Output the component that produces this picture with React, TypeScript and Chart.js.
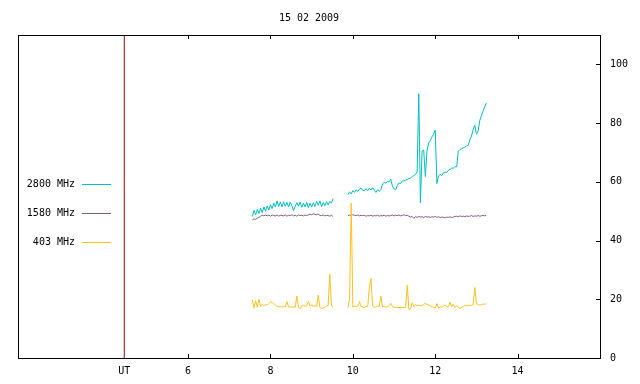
import { useEffect, useRef } from "react";
import { Chart, registerables } from "chart.js";
Chart.register(...registerables);

const TITLE = "15 02 2009";
const X_MIN = 1.87;
const X_MAX = 16;
const UT_POS = 4.45;
const UT_LABEL = "UT";
const X_TICKS = [6, 8, 10, 12, 14];
const Y_TICKS = [0, 20, 40, 60, 80, 100];
const Y_MAX = 110;

// sampling grid of the two recording segments (hours UT)
const SEG1_START = 7.56;
const SEG2_START = 9.88;
const STEP = 0.04;

const SERIES_LABELS = ["2800 MHz", "1580 MHz", "403 MHz"];
const SERIES_COLORS = ["#00c0c0", "#806080", "#ffc020"];

const CYAN_1 = [
  48.2, 50.3, 48.7, 50.6, 49.2, 51.0, 49.5, 51.4, 50.0, 51.8,
  50.4, 52.2, 50.9, 52.7, 51.4, 53.5, 51.6, 53.1, 51.5, 53.2,
  51.7, 53.0, 51.4, 53.1, 51.8, 50.2, 51.6, 52.9, 51.7, 53.1,
  51.3, 52.8, 51.5, 53.0, 51.2, 52.7, 51.4, 52.9, 51.6, 53.3,
  52.0, 53.5, 51.6, 52.9, 51.9, 53.2, 52.1, 53.4, 52.7, 54.3,
];
const CYAN_2 = [
  55.6, 56.6, 55.9, 57.0, 56.4, 57.3, 56.7, 57.5, 57.9, 57.1,
  57.0, 57.7, 57.0, 57.8, 57.2, 58.0, 57.2, 56.4, 57.3, 56.8,
  57.3, 59.3, 59.8, 59.5, 60.1, 60.0, 60.9, 58.5, 57.6, 57.3,
  58.8, 59.6, 59.4, 60.3, 60.3, 60.6, 60.8, 61.1, 61.3, 61.8,
  62.1, 62.5, 63.4, 90.0, 52.8, 70.5, 70.8, 61.8, 70.5, 73.2,
  74.0, 75.3, 76.2, 77.6, 59.4, 62.0, 62.6, 62.1, 63.1, 63.3,
  63.2, 63.9, 64.3, 64.7, 64.6, 65.2, 65.1, 70.4, 71.0, 71.3,
  71.6, 71.8, 72.2, 72.4, 74.3, 75.6, 77.8, 79.3, 76.2, 77.3,
  80.8, 82.5, 84.0, 85.5, 86.8,
];
const PURPLE_1 = [
  47.0, 47.4, 47.2, 47.6, 47.9, 48.3, 48.6, 48.4, 48.7, 48.4,
  48.6, 48.3, 48.7, 48.5, 48.4, 48.7, 48.3, 48.6, 48.5, 48.4,
  48.7, 48.3, 48.6, 48.5, 48.8, 48.4, 48.6, 48.3, 48.7, 48.5,
  48.6, 48.4, 48.7, 48.5, 48.8, 49.0, 48.8, 49.1, 48.9, 48.8,
  49.0, 48.6, 48.5, 48.7, 48.4, 48.6, 48.5, 48.3, 48.6, 48.2,
];
const PURPLE_2 = [
  48.4, 48.7, 48.5, 48.8, 48.6, 48.5, 48.7, 48.4, 48.6, 48.5,
  48.6, 48.3, 48.5, 48.4, 48.6, 48.3, 48.5, 48.4, 48.6, 48.3,
  48.5, 48.4, 48.6, 48.3, 48.5, 48.4, 48.5, 48.7, 48.4, 48.6,
  48.5, 48.7, 48.4, 48.6, 48.8, 48.5, 48.6, 48.3, 48.0, 48.2,
  47.6, 48.1, 47.9, 48.2, 48.0, 48.1, 47.8, 48.2, 48.0, 48.1,
  47.9, 48.1, 48.0, 48.2, 47.9, 48.1, 47.8, 48.0, 47.9, 47.7,
  48.0, 47.9, 48.1, 47.8, 48.0, 48.2, 48.3, 48.1, 48.4, 48.2,
  48.3, 48.1, 48.4, 48.2, 48.3, 48.5, 48.2, 48.4, 48.3, 48.5,
  48.3, 48.4, 48.6, 48.4, 48.6,
];
const YELLOW_1 = [
  19.8, 17.0, 19.5, 17.3, 20.0, 17.6, 18.3, 17.8, 18.2, 18.0,
  18.6, 19.3, 18.9, 18.5, 18.1, 17.6, 17.4, 17.6, 17.3, 17.5,
  17.4, 19.2, 17.3, 17.5, 17.2, 17.4, 17.2, 21.1, 17.4, 16.8,
  17.7, 17.9, 17.6, 17.8, 19.3, 17.7, 18.0, 17.6, 17.9, 17.5,
  21.4, 17.2, 16.9, 17.0, 17.3, 17.7, 17.9, 28.6, 17.8, 17.3,
];
const YELLOW_2 = [
  17.2, 20.0, 52.7, 17.4, 17.6, 17.5, 17.7, 19.2, 17.5, 17.4,
  17.2, 17.6, 17.5, 24.0, 27.1, 17.8, 17.4, 17.3, 17.9, 17.5,
  21.1, 17.4, 17.6, 17.3, 17.5, 17.8, 18.6, 17.6, 17.2, 17.2,
  17.2, 17.2, 17.2, 17.2, 17.2, 17.2, 24.8, 16.6, 16.8, 18.8,
  17.6, 18.2, 17.8, 18.0, 17.7, 18.0, 18.3, 18.6, 18.3, 18.0,
  17.7, 17.5, 17.3, 17.0, 18.5, 16.9, 17.5, 17.2, 17.7, 18.1,
  17.4, 17.6, 19.0, 17.5, 18.3, 17.2, 17.8, 17.3, 16.9, 17.2,
  17.4, 17.8, 17.9, 17.8, 18.0, 17.9, 18.2, 24.0, 18.5, 18.3,
  18.0, 18.2, 18.4, 18.3, 18.5,
];

const FONT = "'DejaVu Sans Mono', monospace";

function buildSeries(a: number[], b: number[]) {
  const pts: { x: number; y: number | null }[] = [];
  a.forEach((v, i) => pts.push({ x: SEG1_START + i * STEP, y: v }));
  pts.push({ x: (SEG1_START + (a.length - 1) * STEP + SEG2_START) / 2, y: null });
  b.forEach((v, i) => pts.push({ x: SEG2_START + i * STEP, y: v }));
  return pts;
}

const framePlugin = {
  id: "frame",
  afterDatasetsDraw(chart: any) {
    const { ctx, chartArea } = chart;
    const { left, right, top, bottom } = chartArea;
    const xs = chart.scales.x;
    const ys = chart.scales.y;
    ctx.save();
    ctx.strokeStyle = "#000";
    ctx.lineWidth = 1;
    ctx.strokeRect(Math.round(left) + 0.5, Math.round(top) + 0.5, Math.round(right - left), Math.round(bottom - top));
    ctx.beginPath();
    X_TICKS.forEach((v) => {
      const px = Math.round(xs.getPixelForValue(v)) + 0.5;
      ctx.moveTo(px, bottom);
      ctx.lineTo(px, bottom - 4);
      ctx.moveTo(px, top);
      ctx.lineTo(px, top + 4);
    });
    Y_TICKS.forEach((v) => {
      const py = Math.round(ys.getPixelForValue(v)) + 0.5;
      ctx.moveTo(right, py);
      ctx.lineTo(right - 4, py);
    });
    ctx.stroke();

    // title
    ctx.fillStyle = "#000";
    ctx.font = "10px " + FONT;
    ctx.textAlign = "center";
    ctx.textBaseline = "middle";
    ctx.fillText(TITLE, (left + right) / 2, 18);

    // legend
    ctx.textAlign = "right";
    SERIES_LABELS.forEach((lab, i) => {
      const y = 184 + i * 29;
      ctx.fillStyle = "#000";
      ctx.fillText(lab, 75, y);
      ctx.strokeStyle = SERIES_COLORS[i];
      ctx.beginPath();
      ctx.moveTo(82, Math.round(y) + 0.5);
      ctx.lineTo(111, Math.round(y) + 0.5);
      ctx.stroke();
    });
    ctx.restore();
  },
};

export default function App() {
  const ref = useRef<HTMLCanvasElement | null>(null);
  useEffect(() => {
    if (!ref.current) return;
    const common = { pointRadius: 0, borderWidth: 1, fill: false, spanGaps: false, tension: 0 };
    const chart = new Chart(ref.current, {
      type: "line",
      data: {
        datasets: [
          { ...common, label: SERIES_LABELS[2], data: buildSeries(YELLOW_1, YELLOW_2), borderColor: SERIES_COLORS[2], order: 0 },
          { ...common, label: SERIES_LABELS[1], data: buildSeries(PURPLE_1, PURPLE_2), borderColor: SERIES_COLORS[1], order: 1 },
          { ...common, label: SERIES_LABELS[0], data: buildSeries(CYAN_1, CYAN_2), borderColor: SERIES_COLORS[0], order: 2 },
          { ...common, label: UT_LABEL, data: [{ x: UT_POS, y: 0 }, { x: UT_POS, y: Y_MAX }], borderColor: "#a00000", order: 3 },
        ] as any,
      },
      options: {
        responsive: false,
        animation: false,
        events: [],
        layout: { padding: { top: 35, left: 18, right: 0, bottom: 0 } },
        plugins: { legend: { display: false }, title: { display: false }, tooltip: { enabled: false } },
        scales: {
          x: {
            type: "linear",
            min: X_MIN,
            max: X_MAX,
            grid: { display: false, drawTicks: false },
            border: { display: false },
            afterBuildTicks: (s: any) => {
              s.ticks = [{ value: UT_POS }, ...X_TICKS.map((v) => ({ value: v }))];
            },
            afterFit: (s: any) => {
              s.height = 26;
            },
            ticks: {
              autoSkip: false,
              maxRotation: 0,
              padding: 7,
              color: "#000",
              font: { family: FONT, size: 10 },
              callback: (v: any) => (Math.abs(v - UT_POS) < 1e-6 ? UT_LABEL : String(v)),
            },
          },
          y: {
            position: "right",
            min: 0,
            max: Y_MAX,
            grid: { display: false, drawTicks: false },
            border: { display: false },
            afterBuildTicks: (s: any) => {
              s.ticks = Y_TICKS.map((v) => ({ value: v }));
            },
            afterFit: (s: any) => {
              s.width = 40;
            },
            ticks: {
              padding: 10,
              color: "#000",
              font: { family: FONT, size: 10 },
            },
          },
        },
      },
      plugins: [framePlugin],
    });
    return () => chart.destroy();
  }, []);
  return (
    <div style={{ position: "absolute", left: 0, top: 0, width: 640, height: 384, background: "#fff" }}>
      <canvas ref={ref} width={640} height={384} style={{ display: "block" }} />
    </div>
  );
}
